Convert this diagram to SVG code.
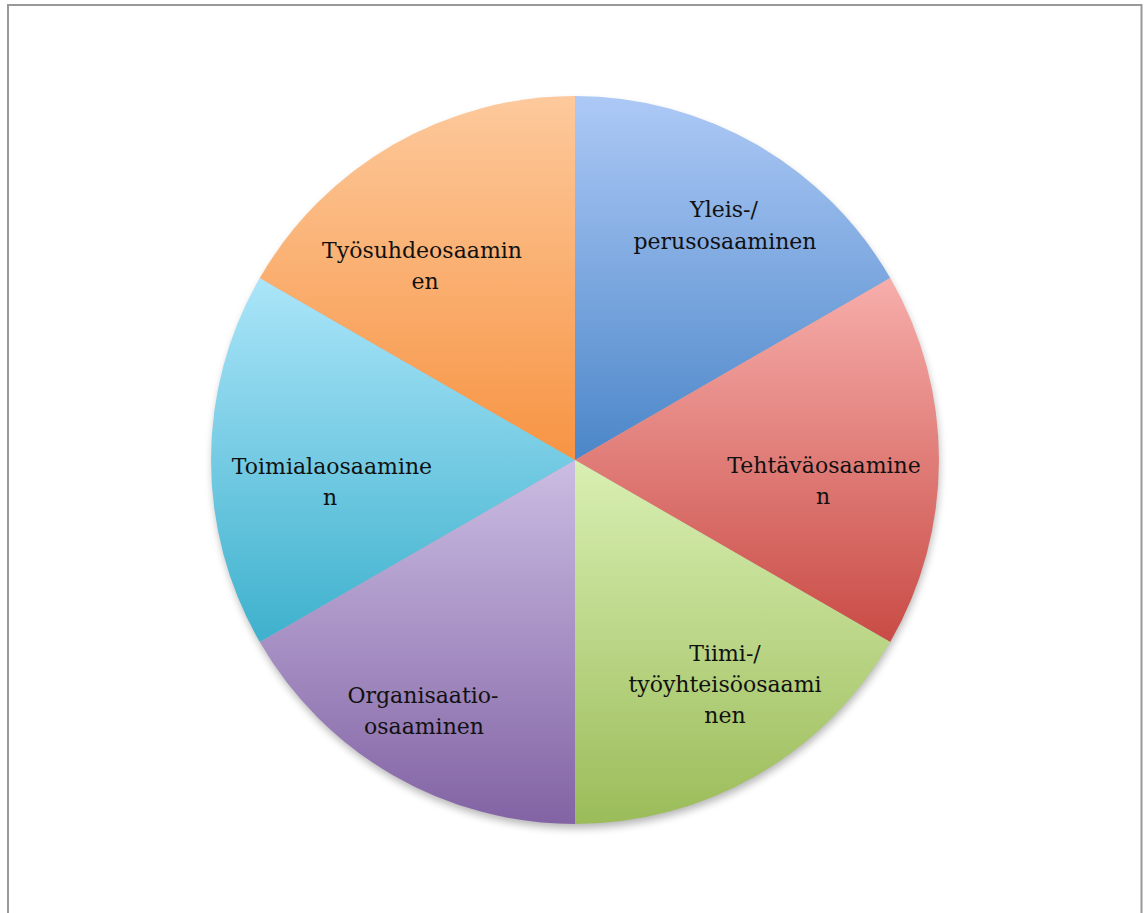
<svg xmlns="http://www.w3.org/2000/svg" width="1144" height="913" viewBox="0 0 1144 913">
<style>
.lbl{font-family:"DejaVu Serif","Liberation Serif",serif;font-size:22px;fill:#111;text-anchor:middle}
</style>
<defs>
<linearGradient id="gBlue" x1="0" y1="0" x2="0" y2="1"><stop offset="0" stop-color="#adc9f6"/><stop offset="1" stop-color="#4b86c8"/></linearGradient>
<linearGradient id="gRed" x1="0" y1="0" x2="0" y2="1"><stop offset="0" stop-color="#f7aeab"/><stop offset="1" stop-color="#c94b45"/></linearGradient>
<linearGradient id="gGreen" x1="0" y1="0" x2="0" y2="1"><stop offset="0" stop-color="#d9efb3"/><stop offset="1" stop-color="#9bbc59"/></linearGradient>
<linearGradient id="gPurple" x1="0" y1="0" x2="0" y2="1"><stop offset="0" stop-color="#cbbde3"/><stop offset="1" stop-color="#8263a4"/></linearGradient>
<linearGradient id="gCyan" x1="0" y1="0" x2="0" y2="1"><stop offset="0" stop-color="#abe5f9"/><stop offset="1" stop-color="#3eb1cd"/></linearGradient>
<linearGradient id="gOrange" x1="0" y1="0" x2="0" y2="1"><stop offset="0" stop-color="#fdc99c"/><stop offset="1" stop-color="#f79443"/></linearGradient>
<filter id="shadow" x="-10%" y="-10%" width="120%" height="120%"><feGaussianBlur stdDeviation="4"/></filter>
</defs>
<rect x="8" y="5" width="1133.5" height="920" fill="#fff" stroke="#999" stroke-width="2"/>
<circle cx="576" cy="465" r="363" fill="#000" opacity="0.3" filter="url(#shadow)"/>
<g id="yleis">
<path d="M575,460 L575,96 A364,364 0 0 1 890.2,278 Z" fill="url(#gBlue)"/>
<text class="lbl" x="724" y="217">Yleis-/</text>
<text class="lbl" x="725" y="249">perusosaaminen</text>
</g>
<g id="tehtava">
<path d="M575,460 L890.2,278 A364,364 0 0 1 890.2,642 Z" fill="url(#gRed)"/>
<text class="lbl" x="824" y="473">Tehtäväosaamine</text>
<text class="lbl" x="823" y="504">n</text>
</g>
<g id="tiimi">
<path d="M575,460 L890.2,642 A364,364 0 0 1 575,824 Z" fill="url(#gGreen)"/>
<text class="lbl" x="725" y="661">Tiimi-/</text>
<text class="lbl" x="725" y="692">työyhteisöosaami</text>
<text class="lbl" x="725" y="723">nen</text>
</g>
<g id="organisaatio">
<path d="M575,460 L575,824 A364,364 0 0 1 259.8,642 Z" fill="url(#gPurple)"/>
<text class="lbl" x="423" y="703">Organisaatio-</text>
<text class="lbl" x="424" y="734">osaaminen</text>
</g>
<g id="toimiala">
<path d="M575,460 L259.8,642 A364,364 0 0 1 259.8,278 Z" fill="url(#gCyan)"/>
<text class="lbl" x="332" y="474">Toimialaosaamine</text>
<text class="lbl" x="330" y="505">n</text>
</g>
<g id="tyosuhde">
<path d="M575,460 L259.8,278 A364,364 0 0 1 575,96 Z" fill="url(#gOrange)"/>
<text class="lbl" x="422" y="258">Työsuhdeosaamin</text>
<text class="lbl" x="425" y="289">en</text>
</g>
</svg>
